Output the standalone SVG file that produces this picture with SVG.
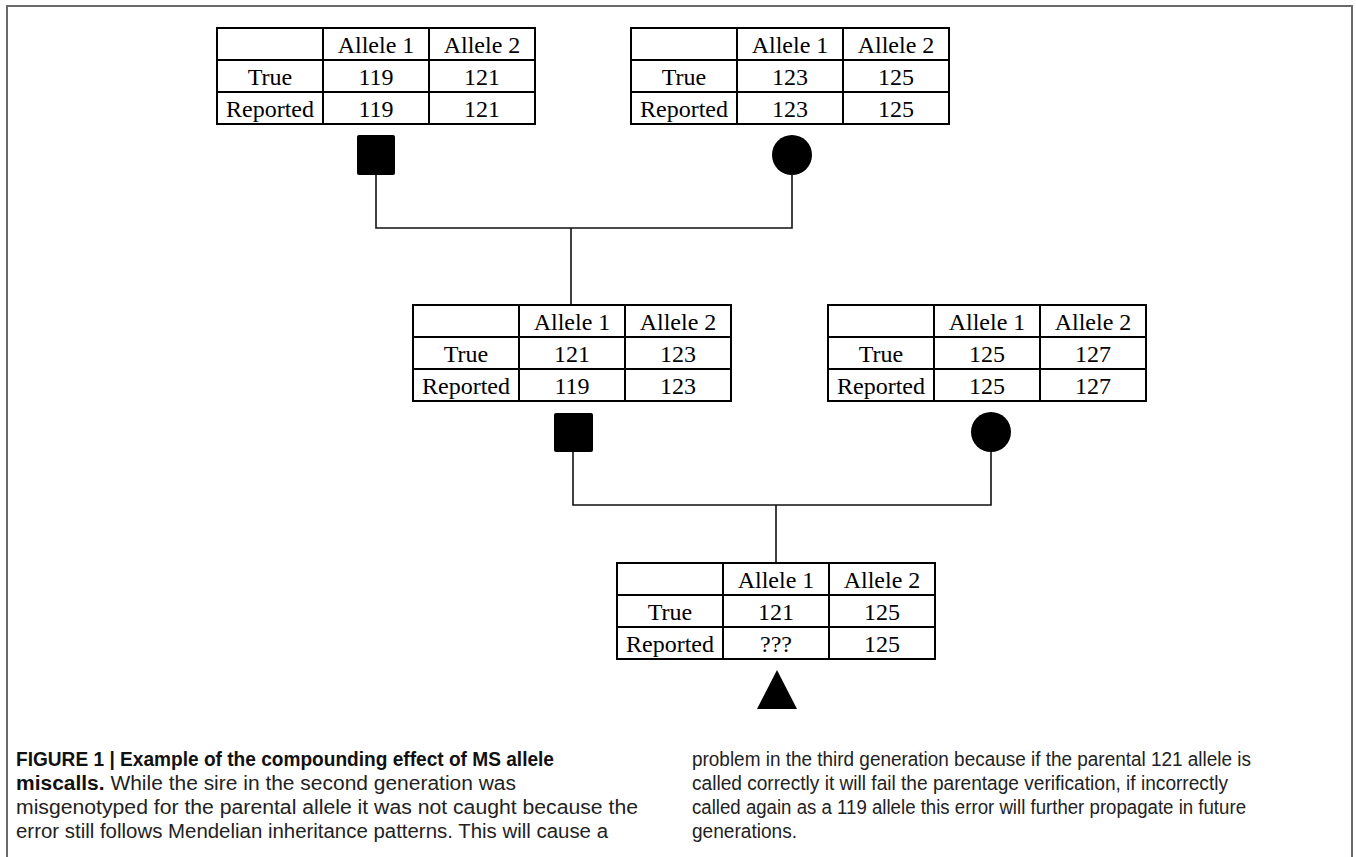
<svg xmlns="http://www.w3.org/2000/svg" width="1356" height="857" viewBox="0 0 1356 857">
<style>
.cell{fill:none;stroke:#000;stroke-width:2}
.t{font-family:"Liberation Serif","Times New Roman",serif;font-size:24px;fill:#000;text-anchor:middle}
.sym{fill:#000}
.conn{fill:none;stroke:#111;stroke-width:1.6}
.cap{font-family:"Liberation Sans",Arial,sans-serif;font-size:20px;fill:#222}
.b{font-weight:bold;fill:#111}
.frame{fill:none;stroke:#6a6a6a;stroke-width:2}
</style>
<defs>
<g id="grid">
<rect class="cell" x="0" y="0" width="318" height="96"/>
<line class="cell" x1="106" y1="0" x2="106" y2="96"/>
<line class="cell" x1="212" y1="0" x2="212" y2="96"/>
<line class="cell" x1="0" y1="32" x2="318" y2="32"/>
<line class="cell" x1="0" y1="64" x2="318" y2="64"/>
<text class="t" x="159" y="25">Allele 1</text>
<text class="t" x="265" y="25">Allele 2</text>
<text class="t" x="53" y="57">True</text>
<text class="t" x="53" y="89">Reported</text>
</g>
</defs>
<path class="frame" d="M7 860 V6 H1352 V860"/>

<g id="connectors">
<path class="conn" d="M376 175 V228 H792 V175"/>
<path class="conn" d="M571 228 V305"/>
<path class="conn" d="M573 452 V505 H991 V452"/>
<path class="conn" d="M776 505 V563"/>
</g>

<g id="table-gen1-sire" transform="translate(217,28)">
<use href="#grid"/>
<text class="t" x="159" y="57">119</text><text class="t" x="265" y="57">121</text>
<text class="t" x="159" y="89">119</text><text class="t" x="265" y="89">121</text>
</g>
<g id="table-gen1-dam" transform="translate(631,28)">
<use href="#grid"/>
<text class="t" x="159" y="57">123</text><text class="t" x="265" y="57">125</text>
<text class="t" x="159" y="89">123</text><text class="t" x="265" y="89">125</text>
</g>
<g id="table-gen2-sire" transform="translate(413,305)">
<use href="#grid"/>
<text class="t" x="159" y="57">121</text><text class="t" x="265" y="57">123</text>
<text class="t" x="159" y="89">119</text><text class="t" x="265" y="89">123</text>
</g>
<g id="table-gen2-dam" transform="translate(828,305)">
<use href="#grid"/>
<text class="t" x="159" y="57">125</text><text class="t" x="265" y="57">127</text>
<text class="t" x="159" y="89">125</text><text class="t" x="265" y="89">127</text>
</g>
<g id="table-gen3" transform="translate(617,563)">
<use href="#grid"/>
<text class="t" x="159" y="57">121</text><text class="t" x="265" y="57">125</text>
<text class="t" x="159" y="89">???</text><text class="t" x="265" y="89">125</text>
</g>

<g id="sire1"><rect class="sym" x="357" y="135" width="38" height="40" rx="2"/></g>
<g id="dam1"><circle class="sym" cx="792" cy="155" r="20"/></g>
<g id="sire2"><rect class="sym" x="554" y="413" width="39" height="39" rx="2"/></g>
<g id="dam2"><circle class="sym" cx="991" cy="432" r="20"/></g>
<g id="offspring"><path class="sym" d="M777 670 L797 709 L757 709 Z"/></g>

<g id="caption">
<text class="cap b" x="16" y="766" textLength="538" lengthAdjust="spacingAndGlyphs">FIGURE 1 | Example of the compounding effect of MS allele</text>
<text class="cap" x="16" y="790" textLength="500" lengthAdjust="spacingAndGlyphs"><tspan class="b">miscalls.</tspan> While the sire in the second generation was</text>
<text class="cap" x="16" y="814" textLength="622" lengthAdjust="spacingAndGlyphs">misgenotyped for the parental allele it was not caught because the</text>
<text class="cap" x="16" y="838" textLength="592" lengthAdjust="spacingAndGlyphs">error still follows Mendelian inheritance patterns. This will cause a</text>
<text class="cap" x="692" y="766" textLength="559" lengthAdjust="spacingAndGlyphs">problem in the third generation because if the parental 121 allele is</text>
<text class="cap" x="692" y="790" textLength="536" lengthAdjust="spacingAndGlyphs">called correctly it will fail the parentage verification, if incorrectly</text>
<text class="cap" x="692" y="814" textLength="554" lengthAdjust="spacingAndGlyphs">called again as a 119 allele this error will further propagate in future</text>
<text class="cap" x="692" y="838" textLength="105" lengthAdjust="spacingAndGlyphs">generations.</text>
</g>
</svg>
